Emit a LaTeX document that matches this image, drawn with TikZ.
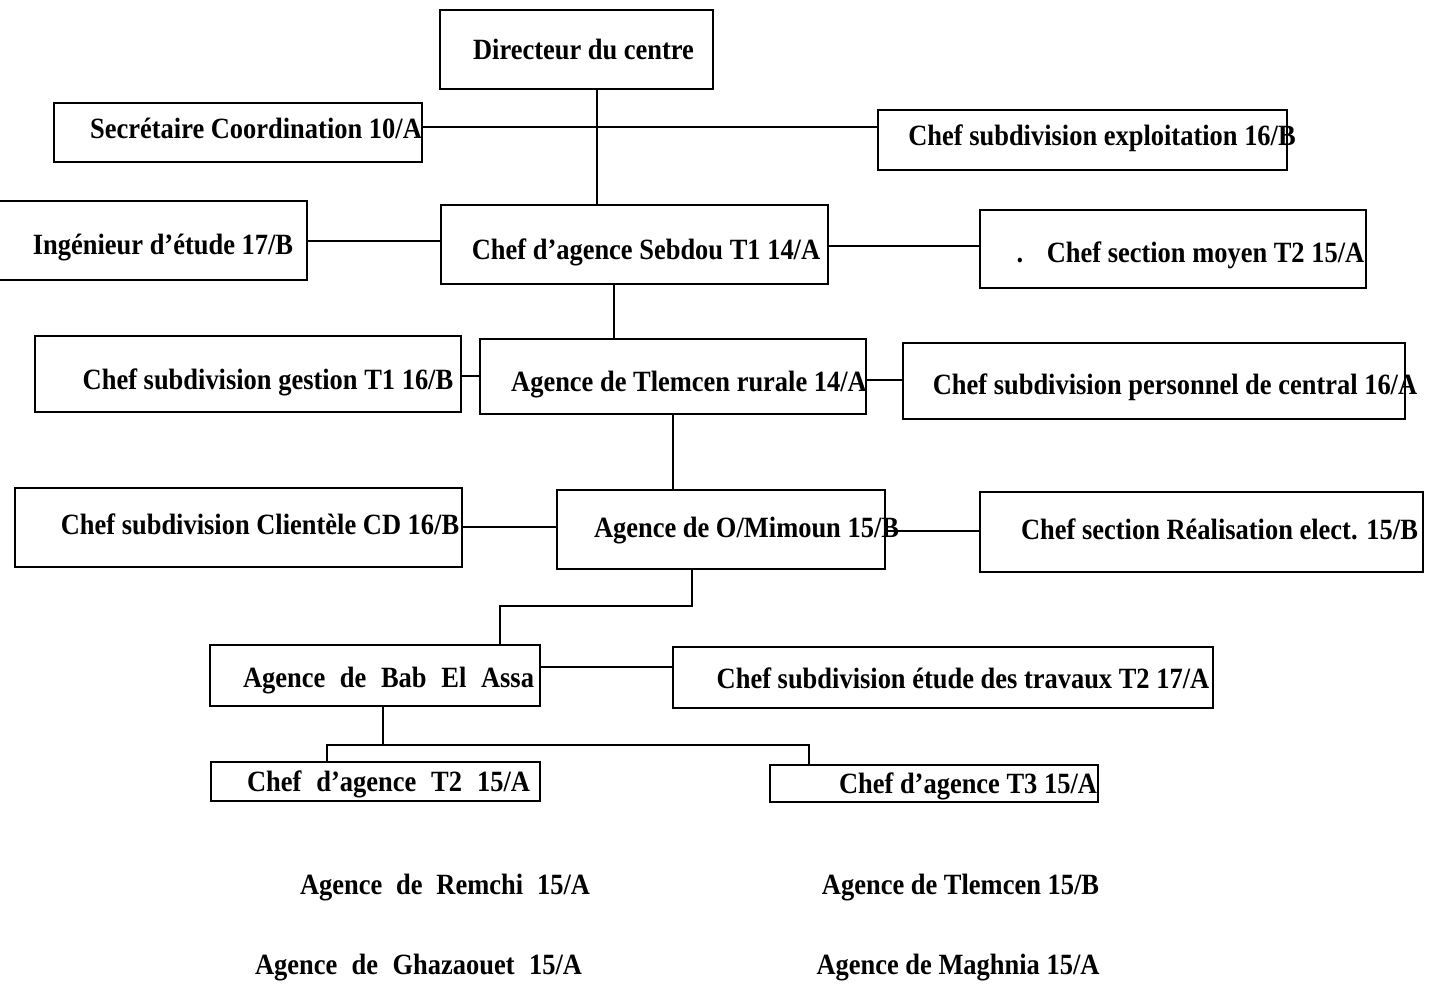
\documentclass[tikz,border=0pt]{standalone}
\usepackage{fontspec}
\setmainfont{Liberation Serif}[FakeStretch=0.9]
\begin{document}
\begin{tikzpicture}[x=1pt,y=-1pt,
  box/.style={draw=black,line width=1.7pt,inner sep=0pt,minimum width=#1},
  lbl/.style={anchor=base,inner sep=0pt,font=\fontsize{29.4}{32}\selectfont\bfseries},
  conn/.style={draw=black,line width=1.6pt}]
\useasboundingbox (0,0) rectangle (1435,986);
\fill[white] (0,0) rectangle (1435,986);
% boxes
\node[box=273pt,minimum height=79pt] (dir) at (576.5,49.5) {};
\node[box=368pt,minimum height=59pt] (sec) at (238,132.5) {};
\node[box=409pt,minimum height=60pt] (exp) at (1082.5,140) {};
\node[box=315pt,minimum height=79pt] (ing) at (149.5,240.5) {};
\node[box=387pt,minimum height=79pt] (seb) at (634.5,244.5) {};
\node[box=386pt,minimum height=78pt] (moy) at (1173,249) {};
\node[box=426pt,minimum height=76pt] (ges) at (248,374) {};
\node[box=386pt,minimum height=75pt] (rur) at (673,376.5) {};
\node[box=502pt,minimum height=76pt] (per) at (1154,381) {};
\node[box=447pt,minimum height=79pt] (cli) at (238.5,527.5) {};
\node[box=328pt,minimum height=79pt] (omi) at (721,529.5) {};
\node[box=443pt,minimum height=80pt] (rea) at (1201.5,532) {};
\node[box=330pt,minimum height=61pt] (bab) at (375,675.5) {};
\node[box=540pt,minimum height=61pt] (etu) at (943,677.5) {};
\node[box=329pt,minimum height=39pt] (ta) at (375.5,781.5) {};
\node[box=328pt,minimum height=37pt] (tb) at (934,783.5) {};
% texts
\node[lbl] (dirT) at (583.5,59) {Directeur du centre};
\node[lbl] (secT) at (256,138) {Secrétaire Coordination 10/A};
\node[lbl] (expT) at (1102,145) {Chef subdivision exploitation 16/B};
\node[lbl] (ingT) at (163,254) {Ingénieur d’étude 17/B};
\node[lbl] (sebT) at (646,259) {Chef d’agence Sebdou T1 14/A};
\node[lbl] (moyD) at (1020,262) {.};
\node[lbl] (moyT) at (1205.5,262) {Chef section moyen T2 15/A};
\node[lbl] (gesT) at (268,389) {Chef subdivision gestion T1 16/B};
\node[lbl] (rurT) at (689,391) {Agence de Tlemcen rurale 14/A};
\node[lbl] (perT) at (1175,394) {Chef subdivision personnel de central 16/A};
\node[lbl] (cliT) at (260,534) {Chef subdivision Clientèle CD 16/B};
\node[lbl] (omiT) at (746.5,537) {Agence de O/Mimoun 15/B};
\node[lbl] (reaT) at (1219.5,539) {Chef section Réalisation elect. 15/B};
\node[lbl] (babT) at (388.5,687) {\makebox[291pt][s]{Agence de Bab El Assa}};
\node[lbl] (etuT) at (963,688) {Chef subdivision étude des travaux T2 17/A};
\node[lbl] (taT) at (388.5,791) {\makebox[283pt][s]{Chef d’agence T2 15/A}};
\node[lbl] (tbT) at (968,793) {Chef d’agence T3 15/A};
\node[lbl] (remT) at (445,894) {\makebox[290pt][s]{Agence de Remchi 15/A}};
\node[lbl] (tlmT) at (960.5,894) {Agence de Tlemcen 15/B};
\node[lbl] (ghaT) at (418.5,974) {\makebox[327pt][s]{Agence de Ghazaouet 15/A}};
\node[lbl] (magT) at (958,974) {Agence de Maghnia 15/A};
% connectors
\draw[conn] (dir.south -| 597,0) -- (seb.north -| 597,0);
\draw[conn] (sec.east |- 0,127) -- (exp.west |- 0,127);
\draw[conn] (ing.east |- 0,241) -- (seb.west |- 0,241);
\draw[conn] (seb.east |- 0,246) -- (moy.west |- 0,246);
\draw[conn] (seb.south -| 614,0) -- (rur.north -| 614,0);
\draw[conn] (ges.east |- 0,376) -- (rur.west |- 0,376);
\draw[conn] (rur.east |- 0,380) -- (per.west |- 0,380);
\draw[conn] (rur.south -| 673,0) -- (omi.north -| 673,0);
\draw[conn] (cli.east |- 0,527) -- (omi.west |- 0,527);
\draw[conn] (omi.east |- 0,531) -- (rea.west |- 0,531);
\draw[conn] (omi.south -| 692,0) -- (692,606) -| (bab.north -| 500,0);
\draw[conn] (bab.east |- 0,667) -- (etu.west |- 0,667);
\draw[conn] (bab.south -| 383,0) -- (383,745);
\draw[conn] (ta.north -| 327,0) -- (327,745) -| (tb.north -| 809,0);
\end{tikzpicture}
\end{document}
